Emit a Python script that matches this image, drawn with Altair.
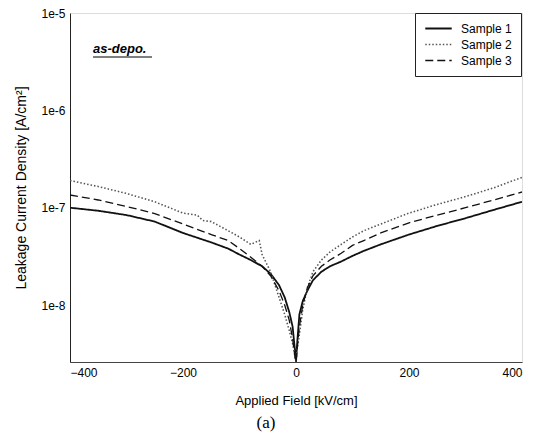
import altair as alt
import pandas as pd

# Sample 1 (solid)
s1_field = [-400, -350, -300, -250, -200, -150, -120, -100, -80, -60, -45, -30, -20, -12, -6, -2, 0,
            2, 6, 12, 20, 30, 45, 60, 80, 100, 120, 150, 200, 250, 300, 350, 400]
s1_j = [1.0e-7, 9.3e-8, 8.4e-8, 7.2e-8, 5.5e-8, 4.4e-8, 3.8e-8, 3.3e-8, 2.9e-8, 2.5e-8, 2.1e-8, 1.6e-8,
        1.2e-8, 8.5e-9, 6e-9, 3.5e-9, 2.6e-9,
        4e-9, 8e-9, 1.1e-8, 1.4e-8, 1.8e-8, 2.2e-8, 2.5e-8, 2.8e-8, 3.2e-8, 3.6e-8, 4.2e-8, 5.3e-8,
        6.5e-8, 7.8e-8, 9.5e-8, 1.15e-7]

# Sample 2 (dotted)
s2_field = [-400, -350, -300, -250, -200, -175, -165, -150, -120, -100, -80, -65, -60, -45, -30, -20,
            -12, -6, -2, 0, 2, 6, 12, 20, 30, 45, 60, 80, 100, 120, 150, 200, 250, 300, 350, 400]
s2_j = [1.9e-7, 1.65e-7, 1.4e-7, 1.15e-7, 8.8e-8, 8.4e-8, 7.4e-8, 7.2e-8, 5.8e-8, 5.0e-8, 4.2e-8,
        4.6e-8, 3.3e-8, 2.2e-8, 1.2e-8, 8e-9, 5.5e-9, 4e-9, 3e-9, 2.6e-9,
        3.5e-9, 5e-9, 9e-9, 1.5e-8, 2.2e-8, 2.9e-8, 3.5e-8, 4.2e-8, 5.0e-8, 5.8e-8, 6.8e-8, 8.8e-8,
        1.08e-7, 1.3e-7, 1.6e-7, 2.05e-7]

# Sample 3 (dashed)
s3_field = [-400, -350, -300, -250, -200, -150, -120, -100, -80, -60, -45, -30, -20, -12, -6, -2, 0,
            2, 6, 12, 20, 30, 45, 60, 80, 100, 120, 150, 200, 250, 300, 350, 400]
s3_j = [1.35e-7, 1.2e-7, 1.03e-7, 8.7e-8, 6.8e-8, 5.3e-8, 4.6e-8, 3.8e-8, 3.1e-8, 2.5e-8, 2.0e-8,
        1.4e-8, 1.0e-8, 7e-9, 4.5e-9, 3e-9, 2.6e-9,
        3.5e-9, 6e-9, 1e-8, 1.5e-8, 2.0e-8, 2.5e-8, 2.9e-8, 3.4e-8, 4.1e-8, 4.6e-8, 5.5e-8, 7.0e-8,
        8.4e-8, 1.0e-7, 1.2e-7, 1.45e-7]

samples = ["Sample 1", "Sample 2", "Sample 3"]
x_ticks = [-400, -200, 0, 200, 400]
y_ticks = [1e-8, 1e-7, 1e-6, 1e-5]

rows = []
for name, fs, js in zip(samples, [s1_field, s2_field, s3_field], [s1_j, s2_j, s3_j]):
    for i, (f, j) in enumerate(zip(fs, js)):
        rows.append({"sample": name, "field": f, "j": j, "order": i})
df = pd.DataFrame(rows)

font = "Liberation Sans"

leg = dict(title=None, orient="none", legendX=345, legendY=0,
           fillColor="white", strokeColor="#222", padding=9,
           symbolType="stroke", symbolSize=700, symbolStrokeWidth=1.3,
           labelFont=font, labelFontSize=12, labelColor="black",
           rowPadding=3, labelOffset=8, clipHeight=13)

lines = alt.Chart(df).mark_line(clip=True).encode(
    x=alt.X("field:Q", scale=alt.Scale(domain=[-400, 400], nice=False, zero=False),
            axis=alt.Axis(values=x_ticks, title="Applied Field [kV/cm]", grid=False, ticks=False,
                          labelPadding=5, titlePadding=16, labelFontSize=12, titleFontSize=13,
                          titleFontWeight="normal", labelFont=font, titleFont=font,
                          labelColor="black", titleColor="black", domainColor="#444")),
    y=alt.Y("j:Q", scale=alt.Scale(type="log", domain=[2.6e-9, 1e-5], nice=False),
            axis=alt.Axis(values=y_ticks, format=".0e", title="Leakage Current Density [A/cm²]",
                          grid=False, ticks=False, labelPadding=5, titlePadding=12,
                          labelFontSize=12, titleFontSize=14, titleFontWeight="normal",
                          labelFont=font, titleFont=font, labelColor="black",
                          titleColor="black", domainColor="#222")),
    color=alt.Color("sample:N", scale=alt.Scale(domain=samples, range=["#111", "#555", "#111"]),
                    legend=alt.Legend(**leg)),
    strokeDash=alt.StrokeDash("sample:N", scale=alt.Scale(domain=samples,
                                                          range=[[1, 0], [1.5, 2], [8, 4]]),
                              legend=alt.Legend(**leg)),
    strokeWidth=alt.StrokeWidth("sample:N", scale=alt.Scale(domain=samples, range=[1.8, 1.3, 1.4]),
                                legend=None),
    order="order:Q",
)

label = alt.Chart(pd.DataFrame({"t": ["as-depo."]})).mark_text(
    align="left", baseline="middle", font=font, fontSize=13, fontStyle="italic",
    fontWeight="bold", color="black"
).encode(x=alt.value(23), y=alt.value(36), text="t:N")

underline = alt.Chart(pd.DataFrame({"t": ["as-depo."]})).mark_rule(
    color="black", strokeWidth=1.2
).encode(x=alt.value(23), x2=alt.value(82), y=alt.value(44))

chart = alt.layer(lines, label, underline).properties(
    width=452, height=349,
    autosize=alt.AutoSizeParams(type="none"),
    padding={"left": 62, "top": 5, "right": 10, "bottom": 76},
    title=alt.TitleParams("(a)", orient="bottom", font="Liberation Serif", fontSize=17,
                          fontWeight="normal", color="black", dx=-30, offset=8),
).configure_view(stroke="#333", strokeWidth=1).configure(background="white")

chart.save("out.html", embed_options={"renderer": "svg", "actions": False})
